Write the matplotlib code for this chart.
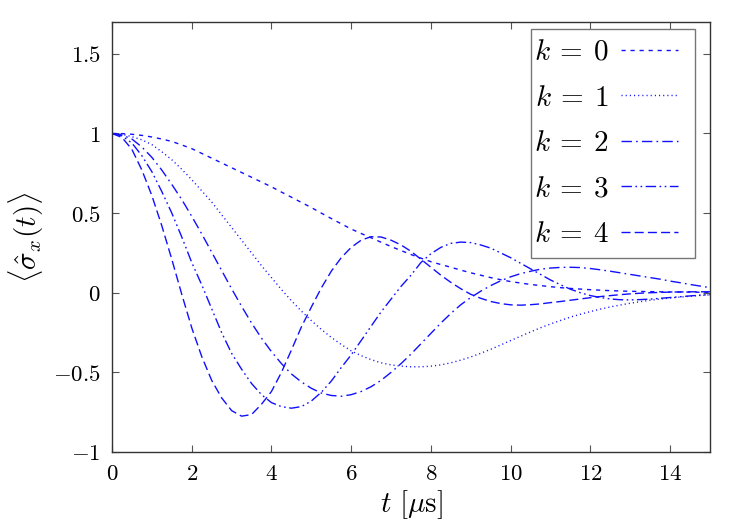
import matplotlib
matplotlib.use("Agg")
import matplotlib.pyplot as plt
from matplotlib.ticker import FuncFormatter
from matplotlib.patches import Rectangle

plt.rcParams['mathtext.fontset'] = 'cm'
plt.rcParams['font.family'] = ['serif']
plt.rcParams['font.serif'] = ['DejaVu Serif']

t = [0.0, 0.25, 0.5, 0.75, 1.0, 1.25, 1.5, 1.75, 2.0, 2.25, 2.5, 2.75, 3.0, 3.25, 3.5, 3.75,
     4.0, 4.25, 4.5, 4.75, 5.0, 5.25, 5.5, 5.75, 6.0, 6.25, 6.5, 6.75, 7.0, 7.25, 7.5, 7.75,
     8.0, 8.25, 8.5, 8.75, 9.0, 9.25, 9.5, 9.75, 10.0, 10.25, 10.5, 10.75, 11.0, 11.25, 11.5,
     11.75, 12.0, 12.25, 12.5, 12.75, 13.0, 13.25, 13.5, 13.75, 14.0, 14.25, 14.5, 14.75, 15.0]

k0 = [1.0, 0.999, 0.995, 0.988, 0.978, 0.965, 0.95, 0.928, 0.905, 0.875, 0.845, 0.815, 0.785,
      0.755, 0.725, 0.695, 0.665, 0.632, 0.6, 0.567, 0.535, 0.5, 0.466, 0.433, 0.4, 0.372,
      0.345, 0.317, 0.29, 0.265, 0.24, 0.217, 0.195, 0.177, 0.16, 0.142, 0.125, 0.11, 0.095,
      0.082, 0.07, 0.061, 0.052, 0.045, 0.038, 0.032, 0.027, 0.023, 0.019, 0.016, 0.013,
      0.011, 0.009, 0.008, 0.007, 0.006, 0.005, 0.004, 0.004, 0.003, 0.003]
k1 = [1.0, 0.995, 0.98, 0.96, 0.93, 0.885, 0.835, 0.775, 0.71, 0.64, 0.57, 0.49, 0.41, 0.33,
      0.25, 0.17, 0.095, 0.02, -0.05, -0.115, -0.175, -0.23, -0.28, -0.325, -0.365, -0.395,
      -0.42, -0.44, -0.453, -0.461, -0.465, -0.465, -0.461, -0.453, -0.44, -0.423, -0.403,
      -0.38, -0.355, -0.328, -0.3, -0.273, -0.246, -0.22, -0.196, -0.174, -0.153, -0.135,
      -0.118, -0.103, -0.089, -0.077, -0.066, -0.056, -0.047, -0.04, -0.033, -0.027, -0.022,
      -0.017, -0.013]
k2 = [1.0, 0.99, 0.965, 0.915, 0.85, 0.77, 0.68, 0.585, 0.48, 0.37, 0.255, 0.14, 0.025, -0.085,
      -0.19, -0.285, -0.37, -0.445, -0.51, -0.56, -0.6, -0.63, -0.645, -0.65, -0.64, -0.62,
      -0.59, -0.55, -0.5, -0.445, -0.385, -0.32, -0.255, -0.19, -0.13, -0.075, -0.03, 0.01,
      0.045, 0.075, 0.1, 0.12, 0.135, 0.148, 0.155, 0.159, 0.16, 0.158, 0.152, 0.144, 0.135,
      0.125, 0.115, 0.105, 0.095, 0.085, 0.073, 0.063, 0.052, 0.042, 0.032]
k3 = [1.0, 0.985, 0.94, 0.86, 0.76, 0.635, 0.5, 0.35, 0.19, 0.05, -0.1, -0.25, -0.38, -0.48,
      -0.57, -0.64, -0.69, -0.715, -0.725, -0.715, -0.68, -0.625, -0.555, -0.47, -0.39, -0.3,
      -0.21, -0.12, -0.04, 0.04, 0.11, 0.19, 0.245, 0.285, 0.31, 0.318, 0.315, 0.3, 0.28, 0.25,
      0.22, 0.185, 0.15, 0.115, 0.08, 0.05, 0.022, 0.0, -0.018, -0.03, -0.039, -0.044, -0.045,
      -0.043, -0.04, -0.035, -0.03, -0.025, -0.02, -0.015, -0.012]
k4 = [1.0, 0.975, 0.9, 0.77, 0.61, 0.42, 0.21, -0.01, -0.22, -0.4, -0.55, -0.66, -0.74, -0.775,
      -0.765, -0.7, -0.62, -0.5, -0.36, -0.215, -0.09, 0.03, 0.135, 0.22, 0.285, 0.33, 0.352,
      0.35, 0.33, 0.3, 0.26, 0.21, 0.16, 0.11, 0.065, 0.025, -0.01, -0.035, -0.055, -0.068,
      -0.076, -0.078, -0.075, -0.07, -0.062, -0.055, -0.047, -0.039, -0.031, -0.024, -0.018,
      -0.012, -0.007, -0.003, 0.0, 0.002, 0.004, 0.005, 0.006, 0.006, 0.006]

series = [k0, k1, k2, k3, k4]
labels = [r'$k\:=\:0$', r'$k\:=\:1$', r'$k\:=\:2$', r'$k\:=\:3$', r'$k\:=\:4$']
styles = [(0, (3.0, 3.5)),
          (0, (0.8, 2.2)),
          (0, (7.5, 3.0, 1.2, 3.0)),
          (0, (7.5, 2.5, 1.2, 2.5, 1.2, 2.5)),
          (0, (6.5, 3.0))]

xticks = [0, 2, 4, 6, 8, 10, 12, 14]
yticks = [-1, -0.5, 0, 0.5, 1, 1.5]

W, H = 750, 525
fig = plt.figure(figsize=(7.5, 5.25), dpi=100)
ax = fig.add_axes([112/W, 1-452/H, 598/W, 430/H])

for y, lab, ls in zip(series, labels, styles):
    ax.plot(t, y, color='#1010ff', linewidth=1.0, linestyle=ls, label=lab)

ax.set_xlim(0, 15)
ax.set_ylim(-1, 1.7)
ax.set_xticks(xticks)
ax.set_yticks(yticks)

def fmt(v, pos):
    s = ('%g' % v)
    if v < 0:
        s = '-' + s[1:]
    return '$' + s + '$'

ax.xaxis.set_major_formatter(FuncFormatter(fmt))
ax.yaxis.set_major_formatter(FuncFormatter(fmt))
ax.tick_params(direction='in', top=True, right=True, length=5, width=0.8,
               color='#555555', labelsize=16.5, pad=8)
for sp in ax.spines.values():
    sp.set_color('#333333')
    sp.set_linewidth(1.0)

ax.set_xlabel(r'$t\ [\mu\mathrm{s}]$', fontsize=21, labelpad=2)
ax.set_ylabel(r'$\langle\hat{\sigma}_x(t)\rangle$', fontsize=21, labelpad=5)

# legend frame drawn as a plain rectangle
frame = Rectangle((531/W, 1-258/H), 164/W, 229/H, transform=fig.transFigure,
                  facecolor='white', edgecolor='#777777', linewidth=1.0, zorder=4,
                  clip_on=False)
ax.add_patch(frame)

leg = ax.legend(loc='upper left', bbox_to_anchor=(534/W, 1-38/H), bbox_transform=fig.transFigure,
                borderaxespad=0, borderpad=0, frameon=False,
                fontsize=21, markerfirst=False, handlelength=1.95, handletextpad=0.4,
                labelspacing=0.6)
leg.set_zorder(5)

fig.savefig('out.png', dpi=100)
